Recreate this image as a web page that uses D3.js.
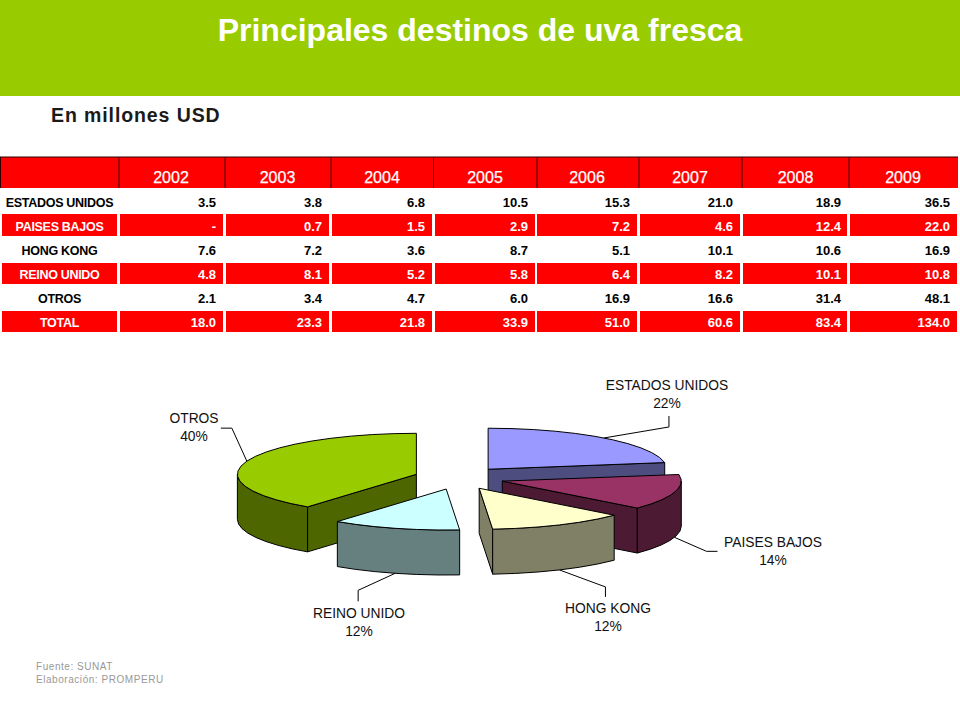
<!DOCTYPE html>
<html><head><meta charset="utf-8">
<script src="https://cdn.jsdelivr.net/npm/d3@7"></script>
<style>html,body{margin:0;padding:0;background:#fff}svg{display:block}text{font-family:"Liberation Sans",Arial,sans-serif}</style>
</head><body><svg id="c" width="960" height="720"></svg>
<script>
// ---- data ----
const years = [2002,2003,2004,2005,2006,2007,2008,2009];
const estadosUnidos = [3.5,3.8,6.8,10.5,15.3,21.0,18.9,36.5];
const paisesBajos   = [null,0.7,1.5,2.9,7.2,4.6,12.4,22.0];
const hongKong      = [7.6,7.2,3.6,8.7,5.1,10.1,10.6,16.9];
const reinoUnido    = [4.8,8.1,5.2,5.8,6.4,8.2,10.1,10.8];
const otros         = [2.1,3.4,4.7,6.0,16.9,16.6,31.4,48.1];
const total         = [18.0,23.3,21.8,33.9,51.0,60.6,83.4,134.0];
const rowNames = ["ESTADOS UNIDOS","PAISES BAJOS","HONG KONG","REINO UNIDO","OTROS","TOTAL"];
const rowValues = [estadosUnidos,paisesBajos,hongKong,reinoUnido,otros,total];
const sliceNames = ["ESTADOS UNIDOS","PAISES BAJOS","HONG KONG","REINO UNIDO","OTROS"];
const sliceShares = [22.4,14.0,12.4,11.6,39.6];

// ---- styles and layout ----
const topColors  = ["#9999FF","#993366","#FFFFCC","#CCFFFF","#99CC00"];
const wallColors = ["#4D4D80","#4D1A33","#808066","#668080","#4D6600"];
const drawOrder = [4,3,0,1,2];
const rowTops = [190,214,239,263,287,311], rowBottoms=[212,236,261,284,309,332];
const colEdges = [[120,223],[226,329],[332,432],[435,535],[537,637],[640,740],[743,847],[850,957]];
const colRules = [119,225,331,433.5,537,639,742,849];
const rowCenters = [202,226,250,274,298,322];
const colRight = [216,322,425,528,630,733,841,950];
const yearCenter = [171,277.5,382,485,587,690,795.5,903];
const leaderOffsets = [[[65,-11],[65,-22]],[[32,14],[43,14]],[[46,17],[46,27]],[[-37,17],[-37,28]],[[-15,-33],[-26,-33]]];
const labelPos = [[667,389.5,407.5],[773,546.5,565],[608,612.5,631],[359,617.5,635.5],[194,422.5,440.5]];
const cx=459, cy=478, rx=179, ry=41, depth=45, exX=45, exY=11.5;

const svg = d3.select("#c");
const tau = 2*Math.PI;

// header
svg.append("rect").attr("x",0).attr("y",0).attr("width",960).attr("height",96).attr("fill","#99CC00");
svg.append("text").text("Principales destinos de uva fresca").attr("x",480).attr("y",41)
  .attr("text-anchor","middle").attr("font-size",32).attr("font-weight","bold").attr("fill","#fff");
svg.append("text").text("En millones USD").attr("x",51).attr("y",122)
  .attr("font-size",19.5).attr("font-weight","bold").attr("letter-spacing",0.9).attr("fill","#1a1a1a");

// table
const red="#FF0000";
svg.append("rect").attr("x",1).attr("y",157).attr("width",957).attr("height",31).attr("fill",red);
svg.append("line").attr("x1",0).attr("x2",958).attr("y1",157).attr("y2",157).attr("stroke","#300").attr("stroke-width",1.2);
svg.append("line").attr("x1",0.5).attr("x2",0.5).attr("y1",157).attr("y2",188).attr("stroke","#300");
colRules.forEach(x=>svg.append("line").attr("x1",x).attr("x2",x).attr("y1",157).attr("y2",188).attr("stroke","#400").attr("stroke-width",1));
svg.selectAll("text.yr").data(years).join("text").attr("class","yr").text(d=>d)
  .attr("x",(d,i)=>yearCenter[i]).attr("y",183).attr("text-anchor","middle")
  .attr("font-size",16).attr("fill","#fff").attr("stroke","#fff").attr("stroke-width",0.25);
const fmt=d3.format(".1f");
rowNames.forEach((name,r)=>{
  const odd = r%2===1;
  const ink = odd?"#fff":"#000";
  if(odd){
    svg.append("rect").attr("x",2).attr("y",rowTops[r]).attr("width",115).attr("height",rowBottoms[r]-rowTops[r]).attr("fill",red);
    colEdges.forEach(e=>svg.append("rect").attr("x",e[0]).attr("y",rowTops[r]).attr("width",e[1]-e[0]).attr("height",rowBottoms[r]-rowTops[r]).attr("fill",red));
  }
  svg.append("text").text(name).attr("x",59.5).attr("y",rowCenters[r]+4.5).attr("text-anchor","middle")
    .attr("font-size",12.5).attr("font-weight","bold").attr("letter-spacing",-0.3).attr("fill",ink);
  rowValues[r].forEach((v,c)=>{
    svg.append("text").text(v===null?"-":fmt(v)).attr("x",colRight[c]).attr("y",rowCenters[r]+5).attr("text-anchor","end")
      .attr("font-size",13).attr("font-weight","bold").attr("fill",ink);
  });
});

// exploded 3D pie
const pie=d3.pie().sort(null).startAngle(0).endAngle(tau);
const arcs=pie(sliceShares);
const line=d3.line();
const apex=a=>{const m=(a.startAngle+a.endAngle)/2;return [cx+exX*Math.sin(m),cy-exY*Math.cos(m)];};
const pt=(o,ang,dz=0)=>[o[0]+rx*Math.sin(ang),o[1]-ry*Math.cos(ang)+dz];
const step=tau/48;
const sample=(a0,a1)=>{const n=Math.max(1,Math.ceil((a1-a0)/step));return d3.range(n+1).map(i=>a0+(a1-a0)*i/n);};
const g=svg.append("g").attr("stroke","#000").attr("stroke-width",1).attr("stroke-linejoin","round");
drawOrder.forEach(i=>{
  const a=arcs[i],o=apex(a);
  const wall=wallColors[i];
  const face=ang=>{ // flat cut face between apex and rim
    const p=pt(o,ang);
    g.append("path").attr("d",line([o,p,[p[0],p[1]+depth],[o[0],o[1]+depth]])+"Z").attr("fill",wall);
  };
  if(Math.cos(a.startAngle-Math.PI/2)<0) face(a.startAngle);
  if(Math.cos(a.endAngle+Math.PI/2)<0) face(a.endAngle);
  const from=Math.max(a.startAngle,Math.PI/2), to=Math.min(a.endAngle,1.5*Math.PI);
  if(to>from){
    const s=sample(from,to);
    const pts=s.map(t=>pt(o,t)).concat(s.slice().reverse().map(t=>pt(o,t,depth)));
    g.append("path").attr("d",line(pts)+"Z").attr("fill",wall);
  }
  const rim=sample(a.startAngle,a.endAngle).map(t=>pt(o,t));
  g.append("path").attr("d",line([o,...rim])+"Z").attr("fill",topColors[i]);
});

// leaders and labels
arcs.forEach((a,i)=>{
  const m=(a.startAngle+a.endAngle)/2,o=apex(a);
  const front=Math.cos(m)<0;
  const p=pt(o,m,front?depth:0);
  const pts=[p,...leaderOffsets[i].map(d=>[p[0]+d[0],p[1]+d[1]])];
  svg.append("path").attr("d",line(pts)).attr("fill","none").attr("stroke","#000").attr("stroke-width",1);
  const L=labelPos[i];
  svg.append("text").text(sliceNames[i]).attr("x",L[0]).attr("y",L[1]).attr("text-anchor","middle").attr("font-size",13.8).attr("fill","#111");
  svg.append("text").text(d3.format(".0f")(a.value)+"%").attr("x",L[0]).attr("y",L[2]).attr("text-anchor","middle").attr("font-size",13.8).attr("fill","#111");
});

// source
svg.append("text").text("Fuente: SUNAT").attr("x",36).attr("y",669.5).attr("font-size",10).attr("letter-spacing",0.55).attr("fill","#999");
svg.append("text").text("Elaboración: PROMPERU").attr("x",36).attr("y",682.5).attr("font-size",10).attr("letter-spacing",0.55).attr("fill","#999");
</script></body></html>
